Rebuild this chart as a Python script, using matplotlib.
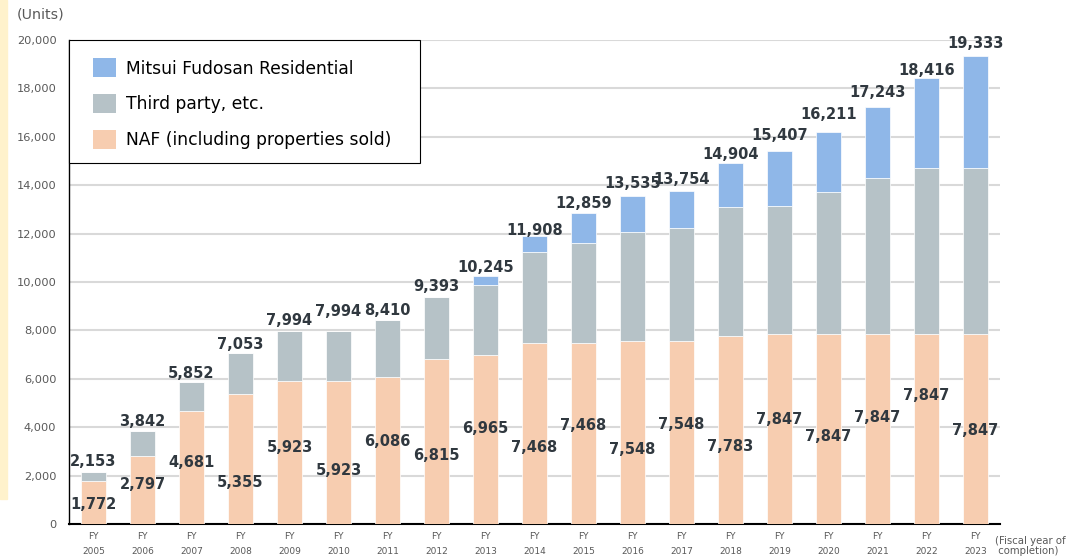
import numpy as np
import matplotlib
matplotlib.use('Agg')
import matplotlib.pyplot as plt
from matplotlib.patches import Rectangle

# --- donnees ---
years = list(range(2005, 2024))
naf = [1772, 2797, 4681, 5355, 5923, 5923, 6086, 6815, 6965, 7468,
       7468, 7548, 7548, 7783, 7847, 7847, 7847, 7847, 7847]
third = [381, 1045, 1171, 1698, 2071, 2071, 2324, 2578, 2899, 3784,
         4144, 4531, 4669, 5302, 5306, 5858, 6438, 6864, 6864]
mitsui = [0, 0, 0, 0, 0, 0, 0, 0, 381, 656,
          1247, 1456, 1537, 1819, 2254, 2506, 2958, 3705, 4622]
totals = [2153, 3842, 5852, 7053, 7994, 7994, 8410, 9393, 10245, 11908,
          12859, 13535, 13754, 14904, 15407, 16211, 17243, 18416, 19333]
tick_labels = [f"FY\n{y}" for y in years]

# placement des etiquettes (style)
naf_lab_y = [826, 1624, 2550, 1707, 3169, 2231, 3401, 2810, 3938, 3153,
             4062, 3070, 4103, 3194, 4298, 3607, 4393, 5302, 3843]
tot_lab_off = [10, 10, 9, 9, 10, 19, 10, 10, 9, 5, 9, 13, 12, 9, 16, 17, 14, 8, 13]

c_mitsui = '#8fb7e8'
c_third = '#b6c2c7'
c_naf = '#f7cdb0'
c_lab = '#30383f'

W, H = 1081, 556
fig = plt.figure(figsize=(W / 100, H / 100), dpi=100)
fig.patches.append(Rectangle((0, (H - 499) / H), 7 / W, 499 / H,
                             transform=fig.transFigure, color='#fff2cc', zorder=0))
ax = fig.add_axes([69 / W, 32 / H, 931 / W, 484 / H])

x = np.arange(len(years))
naf_a = np.array(naf)
third_a = np.array(third)
w = 0.49
ax.bar(x, naf_a, w, color=c_naf, edgecolor='white', linewidth=0.5,
       label='NAF (including properties sold)', zorder=3)
ax.bar(x, third_a, w, bottom=naf_a, color=c_third, edgecolor='white', linewidth=0.5,
       label='Third party, etc.', zorder=3)
ax.bar(x, mitsui, w, bottom=naf_a + third_a, color=c_mitsui, edgecolor='white',
       linewidth=0.5, label='Mitsui Fudosan Residential', zorder=3)

for i in range(len(years)):
    ax.text(x[i], naf_lab_y[i], f"{naf[i]:,}", ha='center', va='center',
            fontsize=10.5, fontweight='bold', color=c_lab, zorder=5)
    ax.annotate(f"{totals[i]:,}", (x[i], naf[i] + third[i] + mitsui[i]),
                xytext=(0, tot_lab_off[i]), textcoords='offset pixels',
                ha='center', va='center', fontsize=10.5, fontweight='bold',
                color=c_lab, zorder=5)

ax.set_xlim(-0.5, 18.5)
ax.set_ylim(0, 20000)
ax.set_yticks(range(0, 20001, 2000))
ax.set_yticklabels([f"{v:,}" for v in range(0, 20001, 2000)])
ax.set_xticks(x)
ax.set_xticklabels(tick_labels, linespacing=1.75)
ax.tick_params(axis='y', length=0, pad=9, labelsize=8.2, labelcolor='#595959')
ax.tick_params(axis='x', length=0, pad=6, labelsize=6.5, labelcolor='#595959')
ax.yaxis.grid(True, color='#d9d9d9', linewidth=1.5, zorder=0)
ax.set_axisbelow(True)
for s in ['top', 'right']:
    ax.spines[s].set_visible(False)
ax.spines['left'].set_linewidth(1.0)
ax.spines['bottom'].set_linewidth(1.5)

# cadre de legende dessine a part (plus large que le contenu)
fig.patches.append(Rectangle((69 / W, 1 - 163 / H), 351 / W, 123 / H,
                             transform=fig.transFigure, facecolor='white',
                             edgecolor='black', linewidth=0.8, zorder=8))
h, l = ax.get_legend_handles_labels()
leg = fig.legend(h[::-1], l[::-1], loc='upper left',
                 bbox_to_anchor=(93 / W, 1 - 58.5 / H), bbox_transform=fig.transFigure,
                 borderaxespad=0, borderpad=0, frameon=False,
                 fontsize=12.3, handlelength=1.35, handleheight=1.3, labelspacing=0.98,
                 handletextpad=0.6)
leg.set_zorder(10)
for p in leg.get_patches():
    p.set_edgecolor('none')

fig.text(17 / W, 1 - 15 / H, "(Units)", fontsize=10.3, color='#595959',
         ha='left', va='center')
fig.text(995 / W, 1 - 546 / H, "(Fiscal year of\n completion)", fontsize=7.3,
         color='#595959', ha='left', va='center', linespacing=0.95)

fig.savefig("out.png", dpi=100)
